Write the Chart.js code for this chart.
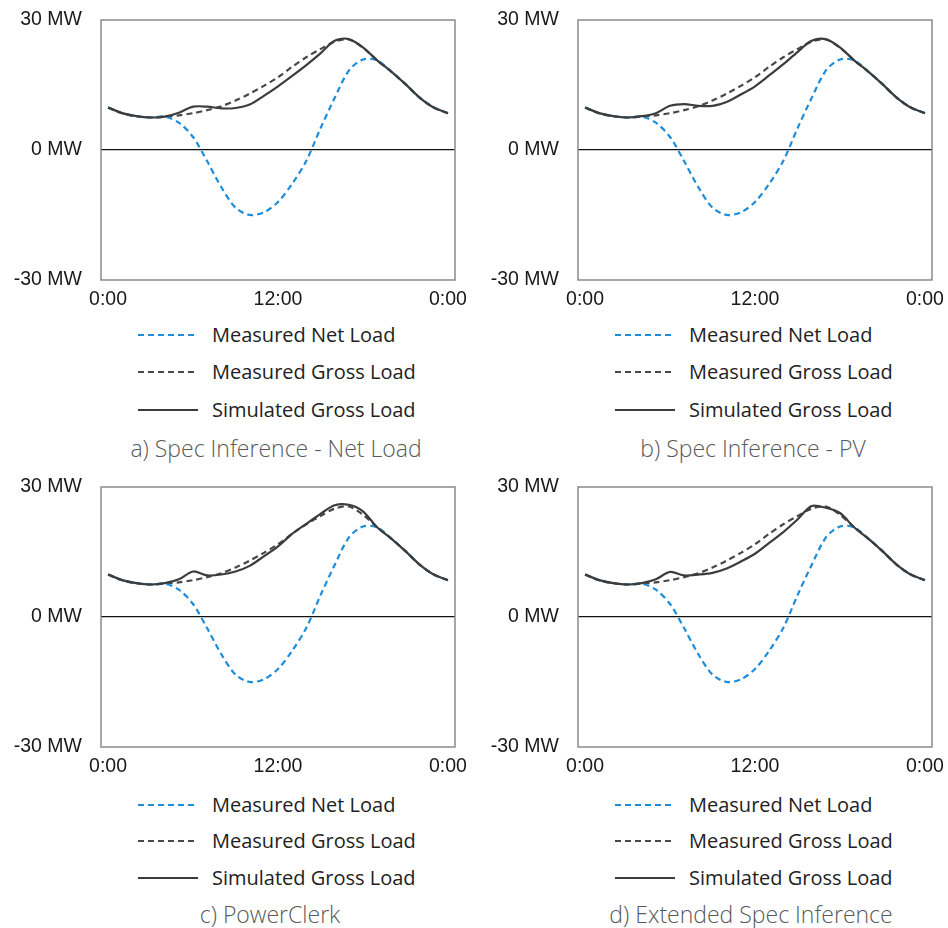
<!DOCTYPE html>
<html>
<head>
<meta charset="utf-8">
<script src="https://cdn.jsdelivr.net/npm/chart.js@4.4.1/dist/chart.umd.min.js"></script>
<style>
  html, body { margin: 0; padding: 0; background: #fff; }
  #page { position: relative; width: 948px; height: 928px; overflow: hidden; }
  .panel { position: absolute; width: 474px; height: 470px; }
  .panel canvas { position: absolute; left: 0; top: 0; }
  .legend-row { position: absolute; height: 24px; line-height: 24px; white-space: nowrap;
    font-family: "Open Sans", "Noto Sans", sans-serif; font-size: 20px; color: #222; }
  .legend-line { position: absolute; width: 60px; height: 2px; }
  .caption { position: absolute; width: 474px; height: 30px; line-height: 30px; text-align: center;
    font-family: "Open Sans", "Noto Sans", sans-serif; font-weight: 300; font-size: 23px; color: #595959; }
</style>
</head>
<body>
<div id="page"></div>
<script>
// hourly samples, 0:00 to 0:00 next day
const hours = ['0:00', '1:00', '2:00', '3:00', '4:00', '5:00', '6:00', '7:00', '8:00', '9:00',
  '10:00', '11:00', '12:00', '13:00', '14:00', '15:00', '16:00', '17:00', '18:00', '19:00',
  '20:00', '21:00', '22:00', '23:00', '0:00'];
const shownHourTicks = [0, 12, 24];
const yTicks = [-30, 0, 30];

const seriesNames = ['Measured Net Load', 'Measured Gross Load', 'Simulated Gross Load'];
const captions = ['a) Spec Inference - Net Load', 'b) Spec Inference - PV', 'c) PowerClerk', 'd) Extended Spec Inference'];

// MW
const measuredNetLoad = [9.8, 8.5, 7.8, 7.5, 7.7, 6.3, 3.0, -2.6, -8.6, -13.3, -15.0, -14.4, -12.0,
  -7.8, -2.5, 5.0, 12.0, 18.3, 20.9, 20.7, 18.1, 15.2, 12.1, 9.8, 8.5];
const measuredGrossLoad = [9.8, 8.5, 7.8, 7.5, 7.7, 8.0, 8.5, 9.2, 10.1, 11.4, 13.0, 14.8, 16.8,
  19.2, 21.4, 23.3, 25.0, 25.5, 23.6, 20.7, 18.1, 15.2, 12.1, 9.8, 8.5];
const simSpecNetLoad = [9.8, 8.5, 7.8, 7.5, 7.7, 8.6, 10.0, 10.0, 9.6, 9.7, 10.5, 12.5, 14.7,
  17.1, 19.6, 22.3, 25.2, 25.6, 23.7, 20.7, 18.1, 15.2, 12.1, 9.8, 8.5];
const simSpecPV = [9.8, 8.5, 7.8, 7.5, 7.8, 8.5, 10.2, 10.6, 10.2, 10.2, 11.1, 12.8, 14.7,
  17.2, 19.8, 22.6, 25.2, 25.6, 23.7, 20.7, 18.1, 15.2, 12.1, 9.8, 8.5];
const simPowerClerk = [9.8, 8.5, 7.8, 7.5, 7.8, 8.7, 10.5, 9.6, 9.8, 10.5, 11.8, 14.0, 16.3,
  19.2, 21.5, 23.8, 25.8, 25.9, 24.4, 20.7, 18.1, 15.2, 12.1, 9.8, 8.5];
const simExtendedSpec = [9.8, 8.5, 7.8, 7.5, 7.8, 8.7, 10.4, 9.6, 9.8, 10.2, 11.2, 12.8, 14.6,
  17.1, 19.6, 22.5, 25.6, 25.2, 24.0, 20.7, 18.1, 15.2, 12.1, 9.8, 8.5];
const simulatedSets = [simSpecNetLoad, simSpecPV, simPowerClerk, simExtendedSpec];

const colors = {
  net: '#1c8ddb',
  gross: '#484848',
  sim: '#3c3c3c',
  frame: '#8a8a8a',
  text: '#1a1a1a'
};

// page placement of each panel (canvas origin), legend row centres below the plot, caption centre
const panelBoxes = [
  { left: 0, top: 0, legendRows: [55, 92, 129.5], captionY: 168, captionX: 276 },
  { left: 477, top: 0, legendRows: [55, 92, 129.5], captionY: 168, captionX: 753 },
  { left: 0, top: 467, legendRows: [58, 94, 130.5], captionY: 166.5, captionX: 270 },
  { left: 477, top: 467, legendRows: [58, 94, 130.5], captionY: 166.5, captionX: 751 }
];

const CANVAS_W = 474;
const CANVAS_H = 320;
const PLOT_LEFT = 101;
const PLOT_RIGHT = 455;
const PLOT_TOP = 20;
const PLOT_BOTTOM = 280;

/**
 * Grey box round the plot area
 */
const framePlugin = {
  id: 'frame',
  beforeDatasetsDraw(chart) {
    const a = chart.chartArea;
    const ctx = chart.ctx;
    ctx.save();
    ctx.strokeStyle = colors.frame;
    ctx.lineWidth = 1.5;
    ctx.strokeRect(a.left, a.top, a.right - a.left, a.bottom - a.top);
    ctx.restore();
  }
};

function buildDatasets(simulated) {
  return [
    {
      label: seriesNames[2],
      data: simulated,
      borderColor: colors.sim,
      borderWidth: 2.2,
      order: 0
    },
    {
      label: seriesNames[0],
      data: measuredNetLoad,
      borderColor: colors.net,
      borderWidth: 2.2,
      borderDash: [6, 4],
      order: 1
    },
    {
      label: seriesNames[1],
      data: measuredGrossLoad,
      borderColor: colors.gross,
      borderWidth: 2.2,
      borderDash: [6, 4],
      order: 2
    }
  ];
}

function createPanel(index) {
  const box = panelBoxes[index];
  const page = document.getElementById('page');

  const panel = document.createElement('div');
  panel.className = 'panel';
  panel.style.left = box.left + 'px';
  panel.style.top = box.top + 'px';
  page.appendChild(panel);

  const canvas = document.createElement('canvas');
  canvas.width = CANVAS_W;
  canvas.height = CANVAS_H;
  canvas.style.width = CANVAS_W + 'px';
  canvas.style.height = CANVAS_H + 'px';
  panel.appendChild(canvas);

  new Chart(canvas, {
    type: 'line',
    data: {
      labels: hours,
      datasets: buildDatasets(simulatedSets[index])
    },
    options: {
      responsive: false,
      animation: false,
      devicePixelRatio: 1,
      layout: {
        padding: { left: 0, top: PLOT_TOP, right: CANVAS_W - PLOT_RIGHT, bottom: 0 }
      },
      elements: {
        point: { radius: 0 },
        line: { tension: 0.3, borderCapStyle: 'butt' }
      },
      plugins: {
        legend: { display: false },
        tooltip: { enabled: false }
      },
      scales: {
        x: {
          type: 'category',
          offset: true,
          grid: { display: false, drawTicks: false },
          border: { display: false },
          ticks: {
            autoSkip: false,
            maxRotation: 0,
            padding: 8,
            color: colors.text,
            font: { family: 'Liberation Sans, Arial, sans-serif', size: 19.5 },
            callback: function(value, i) {
              return shownHourTicks.includes(i) ? hours[i] : '';
            }
          },
          afterFit: function(scale) {
            scale.height = CANVAS_H - PLOT_BOTTOM;
            scale.paddingLeft = 0;
            scale.paddingRight = 0;
          }
        },
        y: {
          min: yTicks[0],
          max: yTicks[yTicks.length - 1],
          afterBuildTicks: function(scale) {
            scale.ticks = yTicks.map(v => ({ value: v }));
          },
          grid: {
            drawTicks: false,
            lineWidth: 1.2,
            color: function(ctx) {
              return ctx.tick && ctx.tick.value === 0 ? '#111' : 'rgba(0,0,0,0)';
            }
          },
          border: { display: false },
          ticks: {
            padding: 19,
            color: colors.text,
            font: { family: 'Liberation Sans, Arial, sans-serif', size: 19.5 },
            callback: function(value) {
              return value + ' MW';
            }
          },
          afterFit: function(scale) {
            scale.width = PLOT_LEFT;
            scale.paddingTop = 0;
            scale.paddingBottom = 0;
          }
        }
      }
    },
    plugins: [framePlugin]
  });

  // legend under the plot, one series per row
  const legendStyles = [
    { color: colors.net, dashed: true },
    { color: colors.gross, dashed: true },
    { color: colors.sim, dashed: false }
  ];
  seriesNames.forEach((name, i) => {
    const cy = PLOT_BOTTOM + box.legendRows[i];
    const line = document.createElement('div');
    line.className = 'legend-line';
    line.style.left = (PLOT_LEFT + 37) + 'px';
    line.style.top = (cy - 1) + 'px';
    const st = legendStyles[i];
    line.style.background = st.dashed
      ? `repeating-linear-gradient(to right, ${st.color} 0 6px, transparent 6px 10px)`
      : st.color;
    panel.appendChild(line);

    const row = document.createElement('div');
    row.className = 'legend-row';
    row.style.left = (PLOT_LEFT + 111) + 'px';
    row.style.top = (cy - 12) + 'px';
    row.textContent = name;
    panel.appendChild(row);
  });

  const caption = document.createElement('div');
  caption.className = 'caption';
  caption.style.left = (box.captionX - box.left - 237) + 'px';
  caption.style.top = (PLOT_BOTTOM + box.captionY - 15) + 'px';
  caption.textContent = captions[index];
  panel.appendChild(caption);
}

captions.forEach((c, i) => createPanel(i));
</script>
</body>
</html>
